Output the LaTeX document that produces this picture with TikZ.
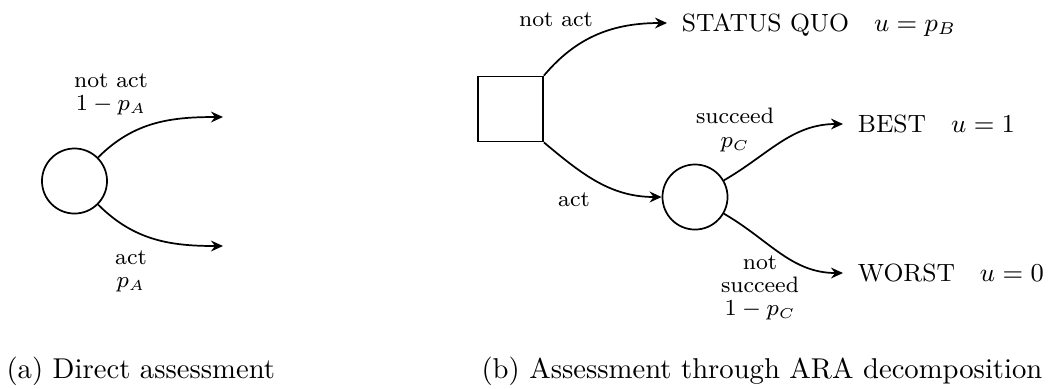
\documentclass[tikz,border=0pt]{standalone}
\usetikzlibrary{arrows.meta}
\begin{document}
\begin{tikzpicture}[x=0.349pt,y=0.349pt,
  chance/.style={draw, circle, minimum size=22.7pt, inner sep=0pt, line width=0.6pt},
  decision/.style={draw, rectangle, minimum size=22.7pt, inner sep=0pt, line width=0.6pt},
  branch/.style={-{Stealth[length=4.2pt,width=3.8pt,inset=1.4pt]}, line width=0.6pt},
  outcome/.style={anchor=west, inner xsep=5pt, inner ysep=0pt, text height=6pt, text depth=0pt, font=\fontsize{8.7}{10.5}\selectfont},
  lbl/.style={align=center, inner sep=0pt, font=\fontsize{7.8}{8.1}\selectfont},
  subcap/.style={anchor=base west, inner sep=0pt, font=\fontsize{10}{12}\selectfont}]
\useasboundingbox (0,0) rectangle (1049,-388);
% (a)
\node[chance] (c1) at (74.5,-181) {};
\coordinate (a1) at (223,-117);
\coordinate (a2) at (223,-246);
\draw[branch] (c1) to[out=45,in=180] (a1);
\draw[branch] (c1) to[out=-45,in=180] (a2);
\node[lbl] (l1) at (111,-94) {not act\\$1-p_A$};
\node[lbl] (l2) at (131,-271) {act\\$p_A$};
% (b)
\node[decision] (d) at (510.5,-109) {};
\node[chance] (c2) at (695,-197) {};
\node[outcome] (sq) at (667,-23) {STATUS QUO\quad $u=p_B$};
\node[outcome] (best) at (843,-124) {BEST\quad $u=1$};
\node[outcome] (worst) at (843,-273) {WORST\quad $u=0$};
\draw[branch] (d.north east) to[out=50,in=180] (sq.west);
\draw[branch] (d.south east) to[out=-40,in=180] (c2.west);
\draw[branch] (c2) to[out=30,in=180] (best.west);
\draw[branch] (c2) to[out=-30,in=180] (worst.west);
\node[lbl] (l3) at (556,-20) {not act};
\node[lbl] (l4) at (574,-200) {act};
\node[lbl] (l5) at (735,-130) {succeed\\$p_C$};
\node[lbl] (l6) at (760,-288) {not\\succeed\\$1-p_C$};
% captions
\node[subcap] (capa) at (6,-378) {(a) Direct assessment};
\node[subcap] (capb) at (481,-378) {(b) Assessment through ARA decomposition};
\end{tikzpicture}
\end{document}
